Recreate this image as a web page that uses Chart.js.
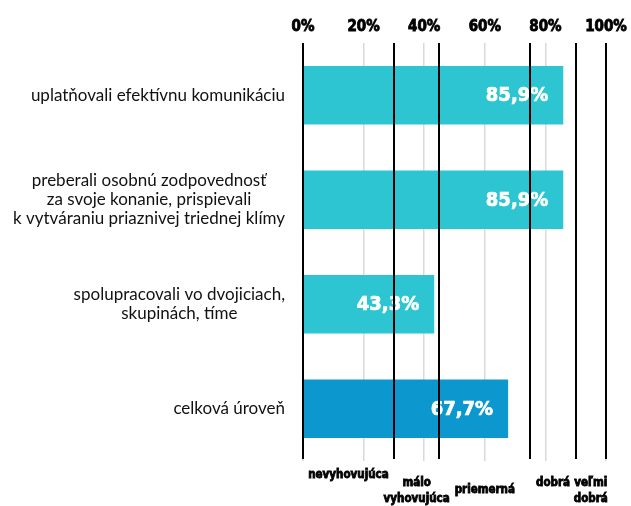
<!DOCTYPE html>
<html>
<head>
<meta charset="utf-8">
<script src="https://cdn.jsdelivr.net/npm/chart.js@4"></script>
<style>
  html, body { margin: 0; padding: 0; background: #fff; }
  #wrap { width: 631px; height: 506px; }
</style>
</head>
<body>
<div id="wrap"><canvas id="skillsChart"></canvas></div>
<script>
  // kategórie (riadky grafu)
  const categories = [
    ["uplatňovali efektívnu komunikáciu"],
    ["preberali osobnú zodpovednosť", "za svoje konanie, prispievali", "k vytváraniu priaznivej triednej klímy"],
    ["spolupracovali vo dvojiciach,", "skupinách, tíme"],
    ["celková úroveň"]
  ];
  const values = [85.9, 85.9, 43.3, 67.7];
  const barColors = ["#2dc5d2", "#2dc5d2", "#2dc5d2", "#0c98cf"];
  const tickValues = [0, 20, 40, 60, 80, 100];

  // hranice hodnotiacich pásiem
  const bandEdges = [0, 30, 45, 75, 90, 100];
  const bandLabels = [["nevyhovujúca"], ["málo", "vyhovujúca"], ["priemerná"], ["dobrá"], ["veľmi", "dobrá"]];

  const condensed = "'DejaVu Sans Condensed', 'DejaVu Sans', sans-serif";

  const overlay = {
    id: "overlay",
    afterDatasetsDraw(chart) {
      const ctx = chart.ctx;
      const x = chart.scales.x;
      const y = chart.scales.y;
      const area = chart.chartArea;
      ctx.save();

      // hodnoty v stĺpcoch
      ctx.fillStyle = "#fff";
      ctx.strokeStyle = "#fff";
      ctx.lineWidth = 0.7;
      ctx.font = "bold 20px " + condensed;
      ctx.textAlign = "right";
      ctx.textBaseline = "middle";
      chart.getDatasetMeta(0).data.forEach((bar, i) => {
        const txt = values[i].toFixed(1).replace(".", ",") + "%";
        ctx.fillText(txt, bar.x - 15, bar.y + 1);
        ctx.strokeText(txt, bar.x - 15, bar.y + 1);
      });

      // popisy kategórií - blok zarovnaný vpravo, riadky na stred
      ctx.fillStyle = "#111";
      ctx.font = "17px Lato, sans-serif";
      ctx.textAlign = "center";
      categories.forEach((lines, i) => {
        const w = Math.max(...lines.map(l => ctx.measureText(l).width));
        const cx = area.left - 18 - w / 2;
        const cy = y.getPixelForValue(i);
        lines.forEach((l, k) => {
          ctx.fillText(l, cx, cy + (k - (lines.length - 1) / 2) * 19);
        });
      });

      // čierne čiary pásiem
      ctx.strokeStyle = "#000";
      ctx.lineWidth = 2;
      bandEdges.forEach(v => {
        const px = Math.round(x.getPixelForValue(v));
        ctx.beginPath();
        ctx.moveTo(px, area.top);
        ctx.lineTo(px, area.bottom - 2);
        ctx.stroke();
      });

      // názvy pásiem pod grafom
      const firstLine = [14, 22, 29, 22, 22];
      ctx.fillStyle = "#000";
      ctx.lineWidth = 0.8;
      ctx.font = "bold 11.5px " + condensed;
      bandLabels.forEach((lines, i) => {
        const mid = x.getPixelForValue((bandEdges[i] + bandEdges[i + 1]) / 2);
        lines.forEach((l, k) => {
          ctx.fillText(l, mid, area.bottom + firstLine[i] + k * 16);
          ctx.strokeText(l, mid, area.bottom + firstLine[i] + k * 16);
        });
      });

      ctx.restore();
    }
  };

  new Chart(document.getElementById("skillsChart"), {
    type: "bar",
    data: {
      labels: categories,
      datasets: [{
        data: values,
        backgroundColor: barColors,
        categoryPercentage: 1,
        barPercentage: 0.56
      }]
    },
    options: {
      indexAxis: "y",
      responsive: true,
      maintainAspectRatio: false,
      animation: false,
      layout: { padding: { left: 303, right: 25, top: 11, bottom: 45 } },
      plugins: {
        legend: { display: false },
        tooltip: { enabled: false }
      },
      scales: {
        x: {
          position: "top",
          min: 0,
          max: 100,
          afterBuildTicks: axis => { axis.ticks = tickValues.map(v => ({ value: v })); },
          afterFit: axis => { axis.paddingLeft = 0; axis.paddingRight = 0; },
          grid: { color: "#d9d9d9", lineWidth: 1.5, drawTicks: false },
          border: { display: false },
          ticks: {
            padding: 7,
            color: "#000",
            textStrokeColor: "#000",
            textStrokeWidth: 0.8,
            font: { family: condensed, weight: "bold", size: 15 },
            callback: v => v + "%"
          }
        },
        y: { display: false }
      }
    },
    plugins: [overlay]
  });
</script>
</body>
</html>
